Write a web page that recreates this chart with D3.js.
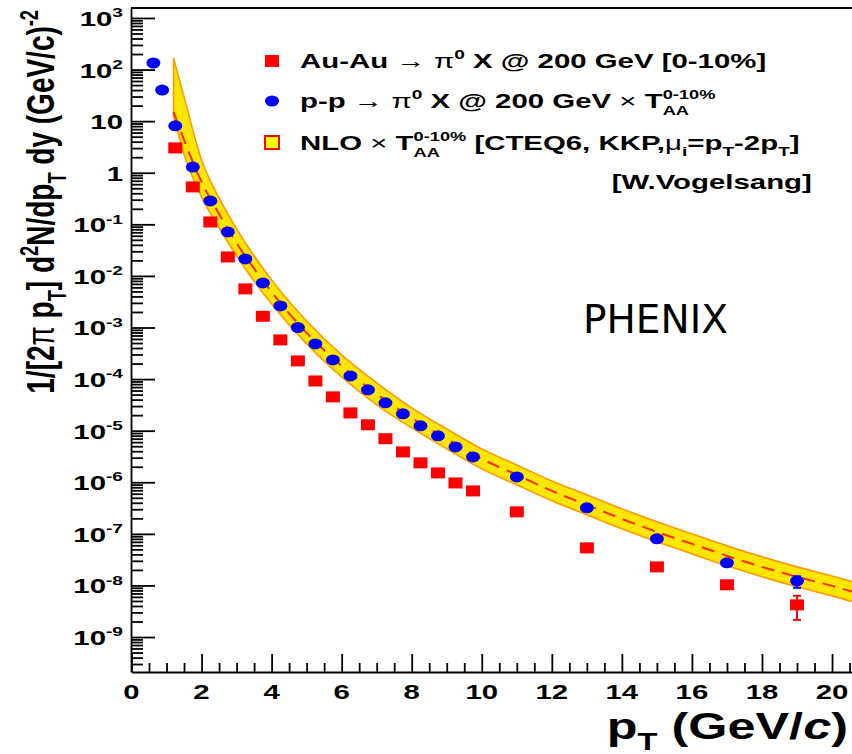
<!DOCTYPE html>
<html>
<head>
<meta charset="utf-8">
<script src="https://cdn.jsdelivr.net/npm/d3@7"></script>
<style>
  body { margin: 0; background: #fff; }
  svg text { font-family: "Liberation Sans", Arial, sans-serif; font-weight: bold; fill: #000; white-space: pre; }
</style>
</head>
<body>
<div id="chart"></div>
<script>
// p-p -> pi0 X x TAA (blue circles)
var ppPt  = [0.625, 0.875, 1.25, 1.75, 2.25, 2.75, 3.25, 3.75, 4.25, 4.75, 5.25, 5.75, 6.25, 6.75,
             7.25, 7.75, 8.25, 8.75, 9.25, 9.75, 11, 13, 15, 17, 19];
var ppVal = [134, 40, 8.1, 1.29, 0.284, 0.0713, 0.0213, 0.00731, 2.62e-3, 1.0e-3, 4.81e-4, 2.35e-4, 1.15e-4, 6.18e-5,
             3.46e-5, 2.12e-5, 1.24e-5, 7.93e-6, 4.85e-6, 3.10e-6, 1.27e-6, 3.19e-7, 8.0e-8, 2.74e-8, 1.23e-8];

// Au-Au -> pi0 X, 0-10% (red squares)
var aaPt  = [1.25, 1.75, 2.25, 2.75, 3.25, 3.75, 4.25, 4.75, 5.25, 5.75, 6.25, 6.75, 7.25, 7.75,
             8.25, 8.75, 9.25, 9.75, 11, 13, 15, 17, 19];
var aaVal = [3.03, 0.531, 0.111, 0.0233, 0.0056, 0.00165, 5.75e-4, 2.25e-4, 9.2e-5, 4.52e-5, 2.21e-5, 1.30e-5, 7.0e-6, 3.88e-6,
             2.38e-6, 1.52e-6, 9.7e-7, 6.8e-7, 2.67e-7, 5.35e-8, 2.29e-8, 1.03e-8, 4.2e-9];

// visible error bars (only the last points)
var aaErrPt = [19], aaErrLo = [2.15e-9], aaErrHi = [6.3e-9];
var ppErrPt = [19], ppErrLo = [9.0e-9], ppErrHi = [1.5e-8];

// NLO x TAA band [W.Vogelsang]
var nloPt      = [1.2, 1.5, 2, 2.5, 3, 4, 5, 6, 7, 8, 9, 10, 11, 12, 13, 14, 15, 16, 17, 18, 19, 20, 20.6];
var nloCentral = [15.1, 4.32, 0.664, 0.159, 0.0436, 4.90e-3, 7.86e-4, 1.80e-4, 5.16e-5, 1.77e-5, 6.93e-6, 2.84e-6,
                  1.39e-6, 6.81e-7, 3.65e-7, 1.95e-7, 1.09e-7, 6.40e-8, 3.75e-8, 2.29e-8, 1.47e-8, 9.82e-9, 7.52e-9];
var nloUpper   = [168, 29.5, 1.77, 0.325, 0.0815, 8.36e-3, 1.34e-3, 2.94e-4, 8.43e-5, 2.77e-5, 1.08e-5, 4.44e-6,
                  2.17e-6, 1.06e-6, 5.70e-7, 3.05e-7, 1.71e-7, 1.0e-7, 5.85e-8, 3.58e-8, 2.29e-8, 1.53e-8, 1.17e-8];
var nloLower   = [12.6, 2.31, 0.340, 0.0851, 0.0244, 2.86e-3, 4.81e-4, 1.10e-4, 3.16e-5, 1.13e-5, 4.44e-6, 1.82e-6,
                  8.91e-7, 4.37e-7, 2.34e-7, 1.25e-7, 7.0e-8, 4.09e-8, 2.40e-8, 1.47e-8, 9.40e-9, 6.28e-9, 4.81e-9];

// axis ticks and labels
var xTicks = [0, 2, 4, 6, 8, 10, 12, 14, 16, 18, 20];
var yTicks = [1e-9, 1e-8, 1e-7, 1e-6, 1e-5, 1e-4, 1e-3, 1e-2, 1e-1, 1, 10, 1e2, 1e3];
var yTickBase = ["10", "10", "10", "10", "10", "10", "10", "10", "10", "1", "10", "10", "10"];
var yTickExp  = ["-9", "-8", "-7", "-6", "-5", "-4", "-3", "-2", "-1", "", "", "2", "3"];

var W = 852, H = 754;
var SX = 1.4; // the original picture is stretched horizontally

var x = d3.scaleLinear().domain([0, 20.57]).range([131.5, 852]);
var y = d3.scaleLog().domain([2.1e-10, 1.56e3]).range([672, 8]);

var svg = d3.select("#chart").append("svg")
  .attr("width", W)
  .attr("height", H);

svg.append("defs").append("clipPath").attr("id", "plotclip")
  .append("rect").attr("x", 131).attr("y", 8).attr("width", 721).attr("height", 664);

// rich text helper: segments of [text, kind]
function rich(parent, segs, size) {
  var outer = parent.append("g");
  var inner = outer.append("g");
  var cx = 0;
  segs.forEach(function(s) {
    var t = s[0], k = s[1];
    if (k === "ss") {
      var a = inner.append("text").attr("x", cx).attr("y", -size * 0.45)
        .style("font-size", (size * 0.62) + "px").text(t[0]);
      var b = inner.append("text").attr("x", cx).attr("y", size * 0.32)
        .style("font-size", (size * 0.62) + "px").text(t[1]);
      cx += Math.max(a.node().getComputedTextLength(), b.node().getComputedTextLength());
      return;
    }
    var el = inner.append("text").attr("x", cx).text(t);
    if (k === "sup") el.attr("y", -size * 0.42).style("font-size", (size * 0.65) + "px");
    else if (k === "sub") el.attr("y", size * 0.3).style("font-size", (size * 0.65) + "px");
    else el.style("font-size", size + "px");
    if (k === "i") el.style("font-style", "italic");
    if (k === "sym") el.style("font-weight", "normal");
    cx += el.node().getComputedTextLength();
  });
  return { outer: outer, inner: inner, width: cx };
}

function placeText(segs, size, px, py, anchor) {
  var r = rich(svg, segs, size);
  r.inner.attr("transform", "scale(" + SX + ",1)");
  var w = r.width * SX;
  var dx = anchor === "end" ? -w : anchor === "middle" ? -w / 2 : 0;
  r.outer.attr("transform", "translate(" + (px + dx) + "," + py + ")");
  return r;
}

// NLO band
var bandData = nloPt.map(function(p, i) {
  return { pt: p, c: nloCentral[i], hi: nloUpper[i], lo: nloLower[i] };
});

var plot = svg.append("g").attr("clip-path", "url(#plotclip)");

plot.append("path")
  .datum(bandData)
  .attr("fill", "#ffe600")
  .attr("stroke", "#ff9a00")
  .attr("stroke-width", 1.6)
  .attr("d", d3.area()
    .curve(d3.curveMonotoneX)
    .x(function(d) { return x(d.pt); })
    .y0(function(d) { return y(d.lo); })
    .y1(function(d) { return y(d.hi); }));

plot.append("path")
  .datum(bandData)
  .attr("fill", "none")
  .attr("stroke", "#ff2a00")
  .attr("stroke-width", 2)
  .attr("stroke-dasharray", "13,8")
  .attr("d", d3.line()
    .curve(d3.curveMonotoneX)
    .x(function(d) { return x(d.pt); })
    .y(function(d) { return y(d.c); }));

// error bars
function errBars(pts, lo, hi, col) {
  pts.forEach(function(p, i) {
    var g = plot.append("g").attr("stroke", col).attr("stroke-width", 2);
    g.append("line").attr("x1", x(p)).attr("x2", x(p)).attr("y1", y(lo[i])).attr("y2", y(hi[i]));
    g.append("line").attr("x1", x(p) - 4).attr("x2", x(p) + 4).attr("y1", y(lo[i])).attr("y2", y(lo[i]));
    g.append("line").attr("x1", x(p) - 4).attr("x2", x(p) + 4).attr("y1", y(hi[i])).attr("y2", y(hi[i]));
  });
}
errBars(aaErrPt, aaErrLo, aaErrHi, "#ff0000");
errBars(ppErrPt, ppErrLo, ppErrHi, "#0000ff");

// Au-Au squares
plot.selectAll(".aa").data(aaPt).enter().append("rect")
  .attr("class", "aa")
  .attr("x", function(d) { return x(d) - 7; })
  .attr("y", function(d, i) { return y(aaVal[i]) - 5.5; })
  .attr("width", 14)
  .attr("height", 11)
  .attr("fill", "#ff0000");

// p-p circles
plot.selectAll(".pp").data(ppPt).enter().append("ellipse")
  .attr("class", "pp")
  .attr("cx", function(d) { return x(d); })
  .attr("cy", function(d, i) { return y(ppVal[i]); })
  .attr("rx", 7)
  .attr("ry", 5.5)
  .attr("fill", "#0000ff");

// axes
var xMinor = d3.range(0.5, 20.6, 0.5).filter(function(v) { return v % 2 !== 0; });
svg.append("g")
  .attr("transform", "translate(0,672)")
  .call(d3.axisBottom(x).tickValues(xMinor).tickSizeInner(-9).tickSizeOuter(0).tickFormat(""))
  .call(function(g) { g.select(".domain").remove(); });

svg.append("g")
  .attr("transform", "translate(0,672)")
  .call(d3.axisBottom(x).tickValues(xTicks).tickSizeInner(-18).tickSizeOuter(0).tickFormat(""));

var yMinor = [];
for (var e = -10; e <= 3; e++) {
  for (var m = 2; m <= 9; m++) {
    var v = m * Math.pow(10, e);
    if (v >= 2.1e-10 && v <= 1.56e3) yMinor.push(v);
  }
}
svg.append("g")
  .attr("transform", "translate(131,0)")
  .call(d3.axisLeft(y).tickValues(yMinor).tickSizeInner(-12).tickSizeOuter(0).tickFormat(""))
  .call(function(g) { g.select(".domain").remove(); });

svg.append("g")
  .attr("transform", "translate(131,0)")
  .call(d3.axisLeft(y).tickValues(yTicks).tickSizeInner(-24).tickSizeOuter(0).tickFormat(""));

svg.selectAll(".domain, .tick line").attr("stroke", "#000").attr("stroke-width", 1.8);

// top frame line
svg.append("line")
  .attr("x1", 131).attr("x2", 852).attr("y1", y.range()[1]).attr("y2", y.range()[1])
  .attr("stroke", "#000").attr("stroke-width", 1.8);

// tick labels
xTicks.forEach(function(t) {
  placeText([[String(t), "n"]], 21, x(t), 699, "middle");
});
yTicks.forEach(function(t, i) {
  var segs = [[yTickBase[i], "n"]];
  if (yTickExp[i]) segs.push([yTickExp[i], "sup"]);
  placeText(segs, 21, 123, y(t) + 8, "end");
});

// axis titles
placeText([["p", "n"], ["T", "sub"], [" (GeV/", "n"], ["c", "i"], [")", "n"]], 36, 848, 739, "end");

var yt = rich(svg, [["1/[2", "n"], ["\u03c0", "sym"], [" p", "n"], ["T", "sub"], ["] d", "n"], ["2", "sup"],
  ["N/dp", "n"], ["T", "sub"], [" dy (GeV/c)", "n"], ["-2", "sup"]], 28);
yt.inner.attr("transform", "scale(1,1.38)");
yt.outer.attr("transform", "translate(54," + (8 + 2 + yt.width) + ") rotate(-90)");

// legend
var lx = 272;
svg.append("rect").attr("x", lx - 7).attr("y", 55).attr("width", 14).attr("height", 12).attr("fill", "#ff0000");
svg.append("ellipse").attr("cx", lx).attr("cy", 101).attr("rx", 7).attr("ry", 5.5).attr("fill", "#0000ff");
svg.append("rect").attr("x", lx - 7).attr("y", 136).attr("width", 14).attr("height", 13)
  .attr("fill", "#ffff00").attr("stroke", "#ff0000").attr("stroke-width", 2);

placeText([["Au-Au ", "n"], ["\u2192", "sym"], [" \u03c0", "sym"], ["0", "sup"], [" X @ 200 GeV [0-10%]", "n"]], 21, 300, 68);
placeText([["p-p ", "n"], ["\u2192", "sym"], [" \u03c0", "sym"], ["0", "sup"], [" X @ 200 GeV ", "n"], ["\u00d7", "sym"],
  [" T", "n"], [["0-10%", "AA"], "ss"]], 21, 300, 108);
placeText([["NLO ", "n"], ["\u00d7", "sym"], [" T", "n"], [["0-10%", "AA"], "ss"], [" [CTEQ6, KKP,", "n"], ["\u03bc", "sym"],
  ["i", "sub"], ["=p", "n"], ["T", "sub"], ["-2p", "n"], ["T", "sub"], ["]", "n"]], 21, 300, 150);
placeText([["[W.Vogelsang]", "n"]], 21, 812, 189, "end");

// experiment label
svg.append("text")
  .attr("x", 583)
  .attr("y", 333)
  .style("font-family", "'DejaVu Sans', Verdana, sans-serif")
  .style("font-weight", "normal")
  .style("font-size", "39px")
  .text("PHENIX");
</script>
</body>
</html>
